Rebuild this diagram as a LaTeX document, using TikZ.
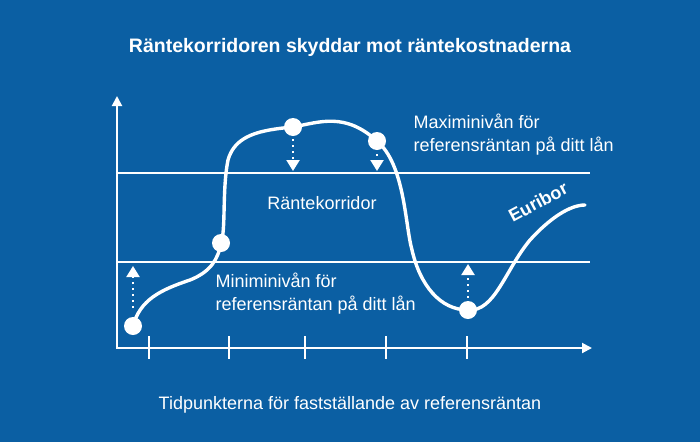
\documentclass[tikz,border=0pt]{standalone}
\usepackage{fontspec}
\setmainfont{Liberation Sans}
\usetikzlibrary{arrows.meta}
\definecolor{bg}{HTML}{0B5FA3}
\begin{document}
\begin{tikzpicture}[x=1pt,y=-1pt,
  axis/.style={white,line width=2pt},
  lvl/.style={white,line width=1.5pt},
  pt/.style={circle,fill=white,minimum size=18pt,inner sep=0pt},
  dotarr/.style={white,line width=2.2pt,dash pattern=on 2pt off 4pt,-{Triangle[width=13pt,length=11pt,fill=white]}},
  lbl/.style={white,font=\fontsize{18}{23}\selectfont,align=left,anchor=west}]
\fill[bg] (0,0) rectangle (700,442);
\useasboundingbox (0,0) rectangle (700,442);
\node[white,font=\bfseries\fontsize{19.5}{22}\selectfont] (title) at (350,47) {Räntekorridoren skyddar mot räntekostnaderna};
\draw[lvl] (117,173) -- (590,173);
\draw[lvl] (117,262) -- (590,262);
\draw[axis,-{Triangle[width=10pt,length=10pt]}] (117,348) -- (117,96);
\draw[axis,-{Triangle[width=10pt,length=10pt]}] (116,348) -- (592,348);
\foreach \x in {149,229,305,386,467} \draw[lvl] (\x,336) -- (\x,359);
\draw[white,line width=3.4pt,line cap=round]
  (133,326) .. controls (140,300) and (160,290) .. (190,280)
  .. controls (210,272) and (218,260) .. (221,243)
  .. controls (226,230) and (222,190) .. (228,160)
  .. controls (235,135) and (260,130) .. (293,127)
  .. controls (320,122) and (345,112) .. (377,141)
  .. controls (405,165) and (405,225) .. (412,250)
  .. controls (420,285) and (440,310) .. (468,310)
  .. controls (495,312) and (505,270) .. (530,240)
  .. controls (550,218) and (570,205) .. (585,205);
\node[pt] (p1) at (133,326) {};
\node[pt] (p2) at (221,243) {};
\node[pt] (p3) at (293,127) {};
\node[pt] (p4) at (377,141) {};
\node[pt] (p5) at (468,310) {};
\coordinate (a1) at (133,266);
\coordinate (a3) at (293,171);
\coordinate (a4) at (377,171);
\coordinate (a5) at (468,264);
\draw[dotarr] (133,308) -- (a1);
\draw[dotarr] (293,139) -- (a3);
\draw[dotarr] (377,154) -- (a4);
\draw[dotarr] (468,298) -- (a5);
\node[lbl] (max) at (410,135) {Maximinivån för\\referensräntan på ditt lån};
\node[lbl] (min) at (212,294) {Miniminivån för\\referensräntan på ditt lån};
\node[white,font=\fontsize{18}{22}\selectfont] (rk) at (322,203) {Räntekorridor};
\node[white,font=\bfseries\fontsize{18}{22}\selectfont,rotate=28] (eu) at (538,202) {Euribor};
\node[white,font=\fontsize{18}{22}\selectfont] (bot) at (350,405) {Tidpunkterna för fastställande av referensräntan};
\end{tikzpicture}
\end{document}
